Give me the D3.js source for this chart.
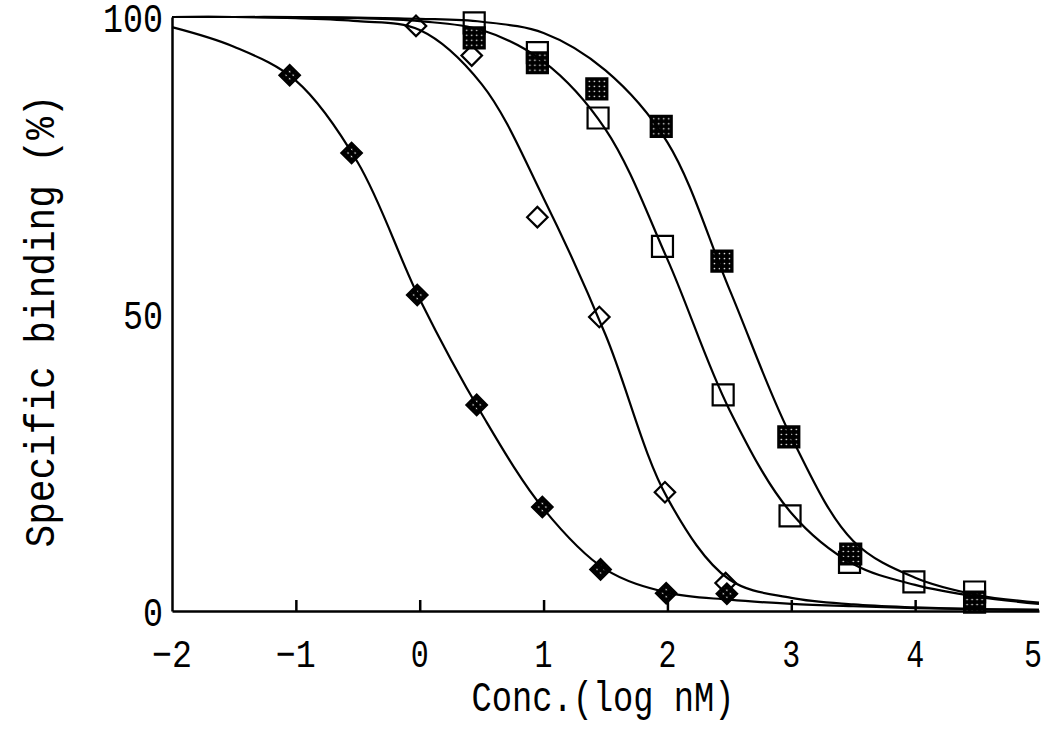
<!DOCTYPE html>
<html><head><meta charset="utf-8">
<script src="https://cdn.jsdelivr.net/npm/d3@7"></script>
<style>html,body{margin:0;padding:0;background:#fff;} svg{display:block;}</style>
</head><body><svg id="chart" width="1050" height="736"></svg>
<script>
// ---- data ----
const curveX = [-2, -1.5, -1, -0.5, 0, 0.5, 1, 1.5, 2, 2.5, 3, 3.5, 4, 4.5, 5];
const curveA = [98.3, 95.0, 89.3, 75.5, 52.5, 33.2, 17.2, 7.0, 3.1, 1.9, 1.2, 0.8, 0.5, 0.3, 0.2];
const curveB = [100, 100, 99.8, 99.3, 97.8, 88.7, 69.5, 46.5, 19.0, 5.3, 2.2, 1.1, 0.6, 0.3, 0.2];
const curveC = [100, 100, 99.9, 99.8, 99.3, 97.8, 92.5, 81.1, 59.2, 33.9, 16.5, 7.9, 4.4, 2.4, 1.2];
const curveD = [100, 100, 100, 99.9, 99.7, 99.2, 97.3, 91.0, 78.9, 54.2, 29.3, 11.8, 5.6, 2.7, 1.4];

const ptsAx = [-1.05, -0.55, -0.02, 0.46, 0.99, 1.46, 1.99, 2.48];   // filled diamonds
const ptsAy = [90.2, 77.1, 53.2, 34.7, 17.5, 7.0, 3.0, 2.9];
const ptsBx = [-0.03, 0.42, 0.95, 1.45, 1.98, 2.47];                 // open diamonds
const ptsBy = [98.5, 93.5, 66.3, 49.5, 20.0, 4.7];
const ptsCx = [0.44, 0.95, 1.44, 1.96, 2.45, 2.99, 3.47, 3.99, 4.48]; // open squares
const ptsCy = [99.0, 94.0, 83.0, 61.4, 36.4, 16.0, 8.2, 4.9, 3.2];
const ptsDx = [0.44, 0.95, 1.43, 1.95, 2.44, 2.98, 3.48, 4.48];       // filled squares
const ptsDy = [96.5, 92.3, 87.9, 81.6, 58.9, 29.3, 9.6, 1.5];

const xTickValues = [-1, 0, 1, 2, 3, 4];
const xTickLabels = [-2, -1, 0, 1, 2, 3, 4, 5];
const yTickLabels = [0, 50, 100];
const xTitle = "Conc.(log nM)";
const yTitle = "Specific binding (%)";

// ---- drawing ----
const svg = d3.select("#chart");
svg.append("rect").attr("width", 1050).attr("height", 736).attr("fill", "#fff");

const x = d3.scaleLinear().domain([-2, 5]).range([172, 1039]);
const y = d3.scaleLinear().domain([0, 100]).range([611, 17]);

const defs = svg.append("defs");
const pat = defs.append("pattern").attr("id", "dots").attr("width", 5).attr("height", 5)
  .attr("patternUnits", "userSpaceOnUse");
pat.append("rect").attr("width", 5).attr("height", 5).attr("fill", "#000");
pat.append("circle").attr("cx", 2.5).attr("cy", 2.5).attr("r", 0.8).attr("fill", "#fff");

// axes
const gx = svg.append("g").attr("transform", `translate(0,${y(0)})`)
  .call(d3.axisBottom(x).tickValues(xTickValues).tickSize(-11).tickSizeOuter(0).tickFormat(""));
gx.selectAll("path,line").attr("stroke", "#000").attr("stroke-width", 2.5);
const gy = svg.append("g").attr("transform", `translate(${x(-2)},0)`)
  .call(d3.axisLeft(y).tickValues([]).tickSizeOuter(0));
gy.selectAll("path,line").attr("stroke", "#000").attr("stroke-width", 2.5);

const font = "'Liberation Mono', 'DejaVu Sans Mono', monospace";

// tick labels
svg.append("g").selectAll("text").data(xTickLabels).join("text")
  .attr("x", d => x(d) - (d === 5 ? 6 : 0)).attr("y", 667)
  .attr("text-anchor", "middle")
  .attr("font-family", font).attr("font-size", 39)
  .attr("textLength", d => String(d).length === 1 ? 18 : 40).attr("lengthAdjust", "spacingAndGlyphs")
  .attr("fill", "#000")
  .text(d => d < 0 ? "\u2212" + Math.abs(d) : String(d));

svg.append("g").selectAll("text").data(yTickLabels).join("text")
  .attr("x", 163).attr("y", d => y(d) + 15)
  .attr("text-anchor", "end")
  .attr("font-family", font).attr("font-size", 40)
  .attr("textLength", d => String(d).length * 20).attr("lengthAdjust", "spacingAndGlyphs")
  .attr("fill", "#000")
  .text(d => String(d));

// axis titles
svg.append("text").attr("x", 603).attr("y", 711).attr("text-anchor", "middle")
  .attr("font-family", font).attr("font-size", 42)
  .attr("textLength", 263).attr("lengthAdjust", "spacingAndGlyphs")
  .attr("fill", "#000").text(xTitle);
svg.append("text").attr("transform", "translate(54,321) rotate(-90)")
  .attr("text-anchor", "middle")
  .attr("font-family", font).attr("font-size", 42)
  .attr("textLength", 453).attr("lengthAdjust", "spacingAndGlyphs")
  .attr("fill", "#000").text(yTitle);

// markers
const sq = d3.symbol(d3.symbolSquare, 441)();
const dm = d3.symbol(d3.symbolSquare, 210)();
const pts = (xs, ys) => xs.map((v, i) => ({ x: v, y: ys[i] }));
function markers(data, path, rot, fill) {
  svg.append("g").selectAll("path").data(data).join("path")
    .attr("d", path)
    .attr("transform", d => `translate(${x(d.x)},${y(d.y)}) rotate(${rot})`)
    .attr("fill", fill).attr("stroke", "#000").attr("stroke-width", 2.2);
}
markers(pts(ptsBx, ptsBy), dm, 45, "#fff");
markers(pts(ptsCx, ptsCy), sq, 0, "#fff");
markers(pts(ptsDx, ptsDy), sq, 0, "url(#dots)");
markers(pts(ptsAx, ptsAy), dm, 45, "url(#dots)");

// fitted curves
const line = d3.line().x(d => x(d.x)).y(d => y(d.y)).curve(d3.curveCatmullRom.alpha(0.5));
[curveA, curveB, curveC, curveD].forEach(c => {
  svg.append("path").datum(pts(curveX, c)).attr("d", line)
    .attr("fill", "none").attr("stroke", "#000").attr("stroke-width", 2.2);
});
</script>
</body></html>
